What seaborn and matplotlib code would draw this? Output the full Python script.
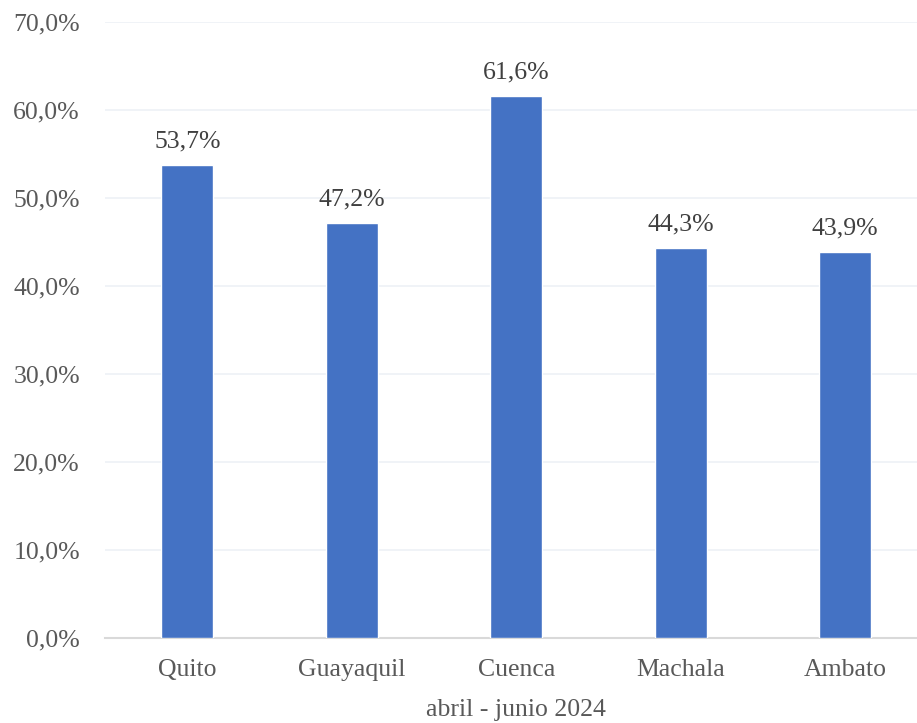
import matplotlib
matplotlib.use("Agg")
import matplotlib.pyplot as plt
import seaborn as sns
import pandas as pd

categories = ["Quito", "Guayaquil", "Cuenca", "Machala", "Ambato"]
values = [53.7, 47.2, 61.6, 44.3, 43.9]
yticks = [0, 10, 20, 30, 40, 50, 60, 70]
xlabel = "abril - junio 2024"

sns.set_theme(style="white")
plt.rcParams["font.family"] = ["Liberation Serif", "DejaVu Serif"]

df = pd.DataFrame({"cat": categories, "val": values})

fig = plt.figure(figsize=(9.17, 7.23), dpi=100)
ax = fig.add_axes([0.1145, 0.1176, 0.897, 0.852])
sns.barplot(data=df, x="cat", y="val", color="#4472C4", width=0.315,
            saturation=1, ax=ax, zorder=3)
ax.set_xlim(-0.5, 4.5)
ax.set_ylim(0, 70)
ax.set_yticks(yticks)
ax.set_yticklabels([f"{t:.1f}%".replace(".", ",") for t in yticks])
ax.grid(axis="y", color="#EEF1F6", linewidth=1.2, zorder=0)
for s in ["top", "right", "left"]:
    ax.spines[s].set_visible(False)
ax.spines["bottom"].set_color("#D9D9D9")
ax.spines["bottom"].set_linewidth(1.5)
ax.tick_params(axis="both", length=0, labelsize=18.5, labelcolor="#595959")
ax.tick_params(axis="x", pad=15)
ax.tick_params(axis="y", pad=18)
ax.set_xlabel(xlabel, fontsize=18.5, color="#595959", labelpad=13)
ax.set_ylabel("")
for i, v in enumerate(values):
    ax.annotate(f"{v:.1f}%".replace(".", ","), (i, v), xytext=(0, 9),
                textcoords="offset points", ha="center", va="bottom",
                fontsize=18.5, color="#404040")
fig.savefig("out.png", dpi=100)
